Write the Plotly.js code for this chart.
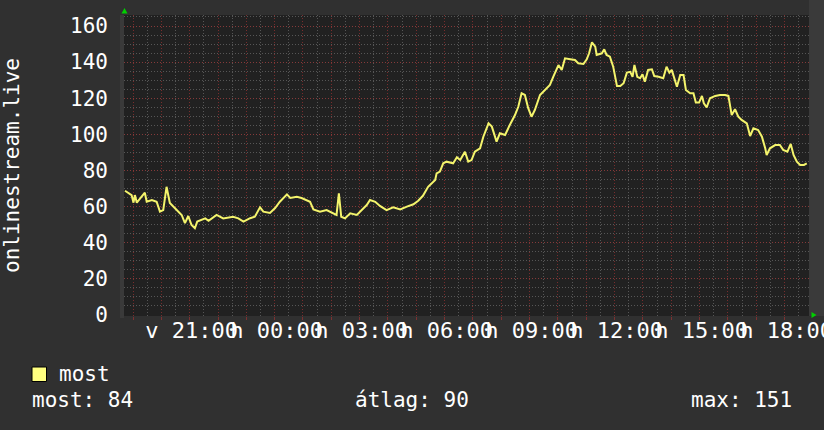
<!DOCTYPE html>
<html>
<head>
<meta charset="utf-8">
<script src="https://cdn.plot.ly/plotly-3.0.1.min.js"></script>
<style>
html,body{margin:0;padding:0;background:#303030;}
#chart{width:824px;height:430px;}
</style>
</head>
<body>
<div id="chart"></div>
<script>
// ---- data ----
const startDay = '2023-01-01'; // vasárnap (v)
const nextDay = '2023-01-02';  // hétfő (h)
const times = ['18:43','18:50','18:57','19:01','19:04','19:08','19:25','19:29','19:40','19:50','19:57','20:04','20:11','20:18','20:29','20:43','20:50','20:57','21:04','21:11','21:16','21:26','21:33','21:40','21:57','22:11','22:32','22:43','22:54','23:08','23:18','23:29','23:36','23:50',
'00:01','00:11','00:26','00:33','00:47','00:57','01:15','01:22','01:36','01:50','02:01','02:11','02:16','02:21','02:29','02:40','02:54','03:01','03:15','03:22','03:33','03:43','03:57','04:11','04:26','04:40','04:54','05:04','05:14','05:25','05:33',
'05:40','05:43','05:50','05:57','06:04','06:18','06:26','06:33','06:43','06:50','06:57','07:04','07:15','07:22','07:33','07:40','07:50','07:57','08:08','08:18','08:29','08:36','08:43','08:50','08:57','09:04','09:11','09:22','09:33','09:43','09:50','09:57','10:01','10:08','10:15','10:26','10:36','10:43','10:54','11:01','11:06','11:12','11:19','11:22','11:33','11:38','11:43','11:50','11:57',
'12:05','12:12','12:19','12:26','12:33','12:38','12:42','12:48','12:54','12:59','13:04','13:11','13:19','13:24','13:33','13:43','13:50','13:56','14:01','14:06','14:12','14:19','14:26','14:31','14:40','14:47','14:52','14:59','15:05','15:09','15:15','15:22','15:33','15:43','15:54','16:01','16:08','16:15','16:22','16:29','16:40','16:47','16:54','17:04','17:12','17:19','17:22','17:29','17:40','17:50','17:57','18:06','18:13','18:19','18:26','18:33','18:41','18:47'];
const values = [68.8,67.4,66.4,62.2,66.4,62.2,67.7,62.7,63.7,62.7,57.2,58.1,71,62,59.2,55.4,50.9,54.8,49.8,48,51.7,52.6,53.5,52.2,55.4,53.5,54.4,53.5,51.7,53.6,54.4,59.6,57.2,56.5,
59.2,62.7,66.8,64.8,65.5,64.8,62.7,58.5,57.2,58.1,56.5,55.4,67.4,54.4,53.5,56.3,55.4,57.2,60.9,63.7,62.7,60.4,58.1,59.6,58.5,60,61.3,63.3,66,71,73,
74.8,78.4,79.4,84,84.9,84,87.3,85.8,90.4,84.9,85.8,90.4,92.3,98.7,106.1,104.3,96,100.6,99.7,105.2,110.7,115.3,122.8,121.8,114.5,109.8,113.5,121.8,124.6,127.4,131.9,135.7,138.4,135.7,142.1,141.6,141.2,139.4,139,141.6,144.9,151,148.6,144,144.9,147.1,144,143,137.5,
126.8,126.8,128.3,134.2,134.6,131.9,138.4,131.9,131.1,133.3,129.2,135.7,136,132.3,131.9,131.1,137.5,134.2,135.7,131.9,126.4,132.9,132.9,124.6,122.8,122.8,117.6,117.6,121.3,117.2,115,120,121.3,121.8,121.8,121.3,110.7,113.9,109.8,108,106.1,99.1,103.4,102.4,98.7,92.3,88.6,92.3,94.1,94.1,91.4,90.4,94.7,88.6,84.9,83.1,83.1,84];

const seriesName = 'most';
const yTitle = 'onlinestream.live';
const labelTimes = ['2023-01-01 21:00','2023-01-02 00:00','2023-01-02 03:00','2023-01-02 06:00','2023-01-02 09:00','2023-01-02 12:00','2023-01-02 15:00','2023-01-02 18:00'];
const labelTexts = ['v 21:00','h 00:00','h 03:00','h 06:00','h 09:00','h 12:00','h 15:00','h 18:00'];
const yTicks = [0,20,40,60,80,100,120,140,160];
const statLabels = ['most: 84','átlag: 90','max: 151'];

// ---- build x values ----
let day = startDay, prev = '';
const xs = times.map(t => { if (prev && t < prev) day = nextDay; prev = t; return day + ' ' + t; });

// hourly grid positions (labels only every 3 h)
const hourVals = [], hourText = [], halfVals = [];
const t0 = new Date('2023-01-01T19:00:00');
function fmt(d){const p=n=>String(n).padStart(2,'0');return d.getFullYear()+'-'+p(d.getMonth()+1)+'-'+p(d.getDate())+' '+p(d.getHours())+':'+p(d.getMinutes());}
for (let h = 0; h < 24; h++) {
  const d = new Date(t0.getTime() + h*3600e3);
  const s = fmt(d);
  hourVals.push(s);
  const i = labelTimes.indexOf(s);
  hourText.push(i >= 0 ? labelTexts[i] : '');
  halfVals.push(fmt(new Date(d.getTime() - 1800e3)));
}
halfVals.push(fmt(new Date(t0.getTime() + 23.5*3600e3)));

const mono = 'DejaVu Sans Mono, monospace';
const red = 'rgba(150,50,50,0.75)';
const gray = 'rgba(110,110,110,0.7)';

const W = 685, H = 301; // plot size in px
const px = x => (x - 124) / W;
const py = y => (316 - y) / H;

const trace = {
  x: xs, y: values, type: 'scatter', mode: 'lines', name: seriesName,
  line: {color: '#f4f46c', width: 2}, showlegend: false, hoverinfo: 'skip'
};

const layout = {
  width: 824, height: 430,
  margin: {l: 124, r: 15, t: 15, b: 114},
  paper_bgcolor: '#303030', plot_bgcolor: '#212121',
  showlegend: false,
  xaxis: {
    type: 'date', range: ['2023-01-01 18:40:54', '2023-01-02 18:51:43'],
    tickmode: 'array', tickvals: hourVals, ticktext: hourText, tickangle: 0,
    ticklabeloverflow: 'allow',
    showgrid: true, gridcolor: red, griddash: '1px,2px', gridwidth: 1,
    ticks: 'outside', ticklen: 3, tickcolor: red,
    ticklabelshift: 2, ticklabelstandoff: -8,
    minor: {tickmode: 'array', tickvals: halfVals, showgrid: true, gridcolor: gray, griddash: '1px,2px', gridwidth: 1},
    zeroline: false, showline: false,
    tickfont: {family: mono, size: 22, color: '#ffffff'}
  },
  yaxis: {
    range: [-0.55, 166.1], tickmode: 'array', tickvals: yTicks,
    showgrid: true, gridcolor: red, griddash: '1px,2px', gridwidth: 1,
    minor: {dtick: 5, showgrid: true, gridcolor: gray, griddash: '1px,2px', gridwidth: 1},
    zeroline: false, showline: false, ticks: '',
    ticklabelstandoff: 15,
    tickfont: {family: mono, size: 21, color: '#ffffff'},
    title: {text: yTitle, font: {family: mono, size: 21, color: '#ffffff'}, standoff: 45}
  },
  shapes: [
    {type: 'rect', xref: 'paper', yref: 'paper', x0: px(120), x1: px(124), y0: py(318), y1: 1, fillcolor: '#3a3a3a', line: {width: 0}, layer: 'below'},
    {type: 'rect', xref: 'paper', yref: 'paper', x0: 1, x1: px(824), y0: py(316), y1: py(0), fillcolor: '#3a3a3a', line: {width: 0}, layer: 'below'},
    {type: 'path', xref: 'paper', yref: 'paper', path: `M ${px(124.5)} ${py(8)} L ${px(121.5)} ${py(13.5)} L ${px(127.5)} ${py(13.5)} Z`, fillcolor: '#00d000', line: {width: 0}},
    {type: 'path', xref: 'paper', yref: 'paper', path: `M ${px(816.5)} ${py(315)} L ${px(811.5)} ${py(312)} L ${px(811.5)} ${py(318)} Z`, fillcolor: '#00d000', line: {width: 0}},
    {type: 'rect', xref: 'paper', yref: 'paper', x0: px(32), x1: px(46.5), y0: py(381.5), y1: py(367), fillcolor: '#ffff80', line: {color: '#000000', width: 1}}
  ],
  annotations: [
    {xref: 'paper', yref: 'paper', x: px(57), y: py(374), xanchor: 'left', yanchor: 'middle', showarrow: false, text: seriesName, font: {family: mono, size: 21, color: '#ffffff'}},
    {xref: 'paper', yref: 'paper', x: px(30), y: py(400), xanchor: 'left', yanchor: 'middle', showarrow: false, text: statLabels[0], font: {family: mono, size: 21, color: '#ffffff'}},
    {xref: 'paper', yref: 'paper', x: px(412), y: py(400), xanchor: 'center', yanchor: 'middle', showarrow: false, text: statLabels[1], font: {family: mono, size: 21, color: '#ffffff'}},
    {xref: 'paper', yref: 'paper', x: px(794), y: py(400), xanchor: 'right', yanchor: 'middle', showarrow: false, text: statLabels[2], font: {family: mono, size: 21, color: '#ffffff'}}
  ]
};

Plotly.newPlot('chart', [trace], layout, {staticPlot: true, displayModeBar: false});
</script>
</body>
</html>
